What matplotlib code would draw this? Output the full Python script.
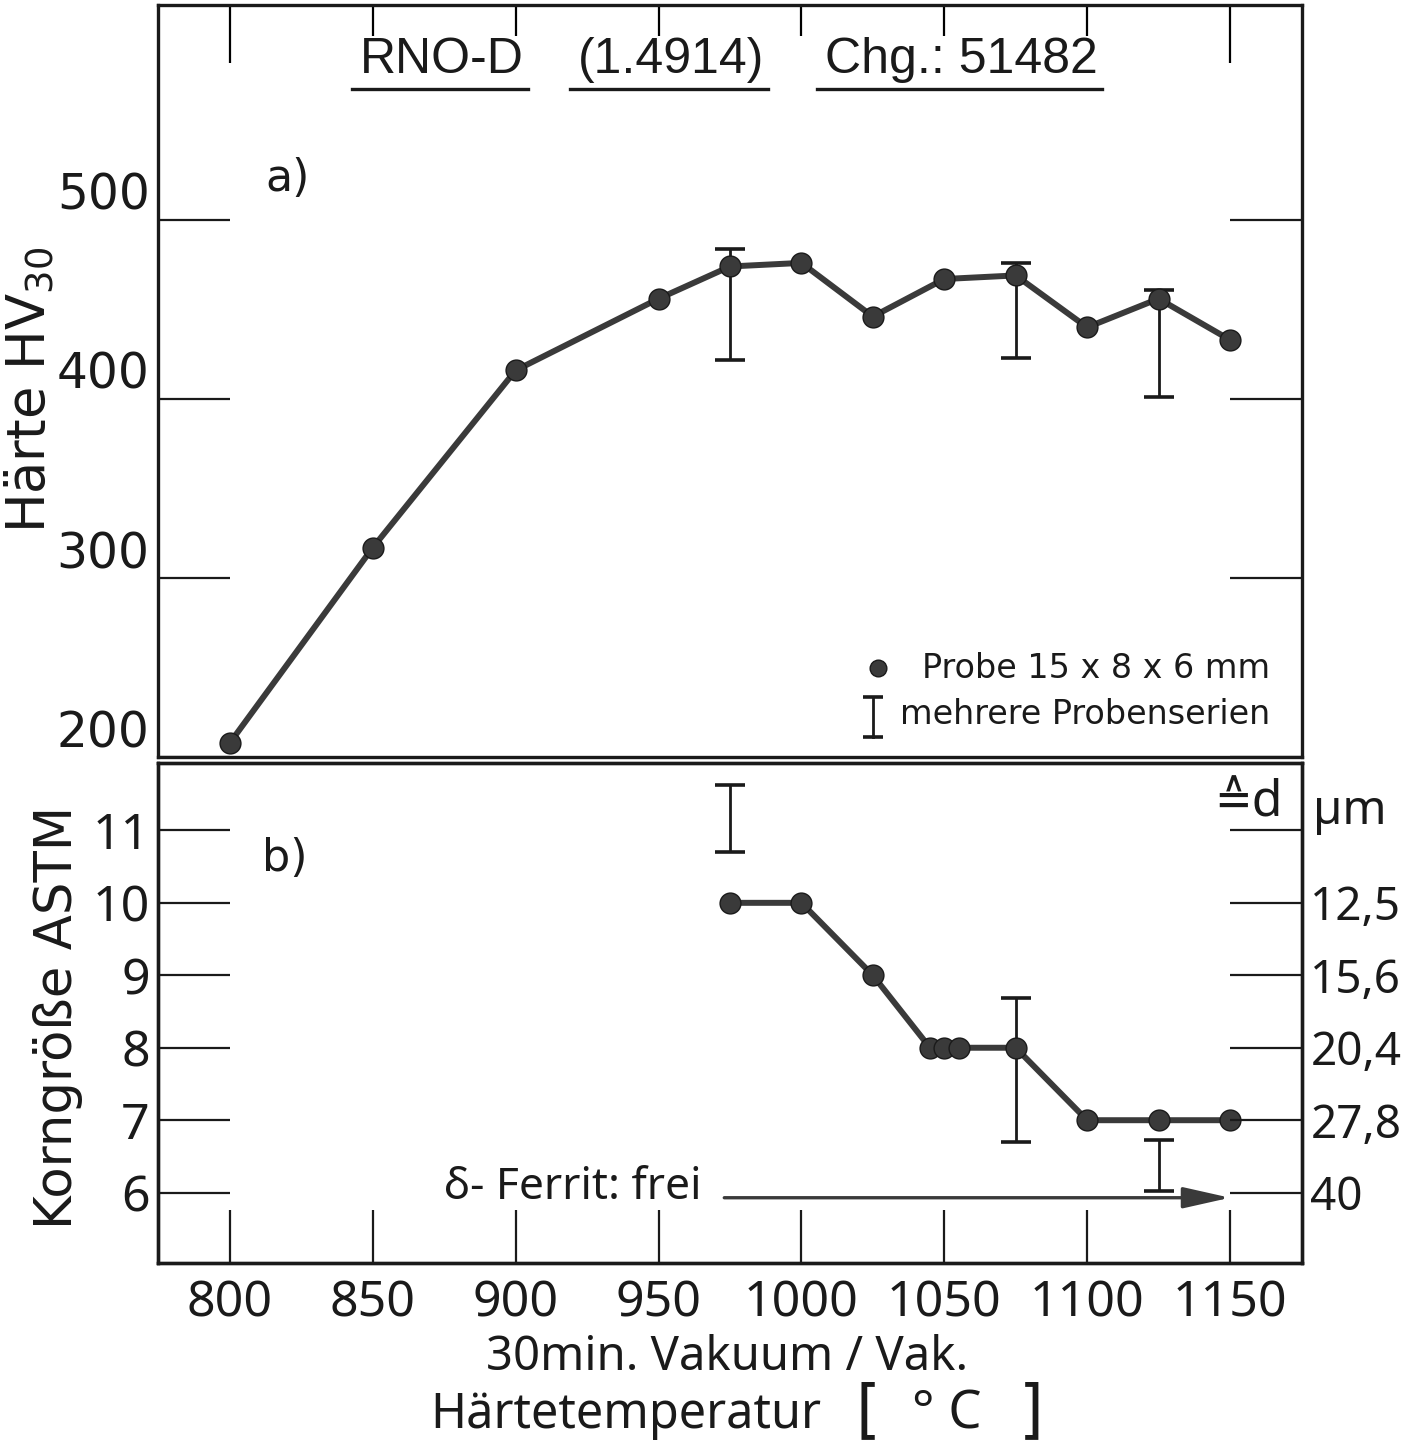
"""
Härte und Korngröße von RNO-D (1.4914), Chg. 51482, über der Härtetemperatur.
"""

import matplotlib

matplotlib.use("Agg")
from matplotlib import pyplot as plt
from matplotlib import transforms as mtrans

# a) Härte HV30
TEMP_A = [800, 850, 900, 950, 975, 1000, 1025, 1050, 1075, 1100, 1125, 1150]
HV_A = [208, 317, 416, 456, 474, 476, 446, 467, 469, 440, 456, 433]
ERR_A_TEMP = [975, 1075, 1125]
ERR_A_LOW = [422, 423, 401]
ERR_A_HIGH = [484, 476, 461]

# b) Korngröße ASTM
TEMP_B = [975, 1000, 1025, 1045, 1050, 1055, 1075, 1100, 1125, 1150]
ASTM_B = [10, 10, 9, 8, 8, 8, 8, 7, 7, 7]
ERR_B_TEMP = [975, 1075, 1125]
ERR_B_LOW = [10.7, 6.7, 6.02]
ERR_B_HIGH = [11.63, 8.68, 6.72]

X_TICKS = [800, 850, 900, 950, 1000, 1050, 1100, 1150]
HV_TICKS = [200, 300, 400, 500]
ASTM_TICKS = [6, 7, 8, 9, 10, 11]
D_TICKS = [6, 7, 8, 9, 10, 11]
D_LABELS = ["40", "27,8", "20,4", "15,6", "12,5", ""]
FERRIT_FROM = 973
FERRIT_TO = 1150
FERRIT_LEVEL = 5.93

# narrow lettering: condensed Noto if it is there, plain Noto otherwise
NARROW = dict(fontfamily=["Noto Sans", "DejaVu Sans"], fontstretch="condensed")
WIDE = dict(fontfamily=["DejaVu Sans"])
TITLE_FONT = dict(fontfamily=["Liberation Sans", "DejaVu Sans"])
INK = "#1a1a1a"
LINE = "#3a3a3a"


def errbars(ax, xs, lows, highs):
    mids = [(lo + hi) / 2 for lo, hi in zip(lows, highs)]
    half = [(hi - lo) / 2 for lo, hi in zip(lows, highs)]
    ax.errorbar(xs, mids, yerr=half, fmt="none", ecolor=INK, elinewidth=2.0,
                capsize=11, capthick=2.6, zorder=2)


def main():
    fig = plt.figure(figsize=(14.18, 14.5), dpi=100)
    ax_a = fig.add_axes([0.1114, 0.4779, 0.8068, 0.5186])
    ax_b = fig.add_axes([0.1114, 0.1290, 0.8068, 0.3448])

    for ax in (ax_a, ax_b):
        ax.set_xlim(774.8, 1175.2)
        for sp in ax.spines.values():
            sp.set_linewidth(2.4)
            sp.set_color(INK)

    # --- a) ---
    ax_a.set_ylim(200, 620)
    ax_a.plot(TEMP_A, HV_A, "-", color=LINE, lw=4.3, zorder=3)
    ax_a.plot(TEMP_A, HV_A, "o", color=LINE, mec=INK, mew=1, ms=15, zorder=4)
    errbars(ax_a, ERR_A_TEMP, ERR_A_LOW, ERR_A_HIGH)
    ax_a.set_yticks(HV_TICKS, [str(t) for t in HV_TICKS], fontsize=35,
                    va="bottom", **WIDE)
    ax_a.tick_params(axis="y", direction="in", length=52, width=1.6,
                     left=True, right=True, pad=6, colors=INK)
    ax_a.set_xticks([800, 1150], ["", ""])
    ax_a.set_xticks(X_TICKS[1:-1], minor=True)
    ax_a.tick_params(axis="x", which="major", direction="in", length=42,
                     width=1.6, top=True, bottom=False, labelbottom=False)
    ax_a.tick_params(axis="x", which="minor", direction="in", length=22,
                     width=1.6, top=True, bottom=False, labelbottom=False)

    ax_a.text(0.0935, 0.77, "a)", transform=ax_a.transAxes, fontsize=32,
              va="center", ha="left", color=INK, **WIDE)

    # legend drawn by hand, as in the original
    ax_a.plot([0.629], [0.118], "o", color=LINE, mec=INK, ms=12,
              transform=ax_a.transAxes, clip_on=False)
    ax_a.plot([0.625, 0.625], [0.027, 0.080], color=INK, lw=2,
              transform=ax_a.transAxes)
    ax_a.plot([0.625, 0.625], [0.027, 0.080], "_", color=INK, ms=14, mew=2.6,
              transform=ax_a.transAxes)
    ax_a.text(0.668, 0.118, "Probe 15 x 8 x 6 mm", transform=ax_a.transAxes,
              fontsize=24, va="center", ha="left", color=INK, **WIDE)
    ax_a.text(0.649, 0.056, "mehrere Probenserien", transform=ax_a.transAxes,
              fontsize=24, va="center", ha="left", color=INK, **WIDE)

    # title pieces, each underlined
    title_parts = [("RNO-D", 0.1766), ("(1.4914)", 0.367), ("Chg.: 51482", 0.583)]
    title_texts = []
    for txt, x0 in title_parts:
        t = ax_a.text(x0, 0.927, txt, transform=ax_a.transAxes, fontsize=36,
                      va="center", ha="left", color=INK, **TITLE_FONT)
        title_texts.append(t)

    # --- b) ---
    ax_b.set_ylim(5.03, 11.93)
    ax_b.plot(TEMP_B, ASTM_B, "-", color=LINE, lw=4.3, zorder=3)
    ax_b.plot(TEMP_B, ASTM_B, "o", color=LINE, mec=INK, mew=1, ms=15, zorder=4)
    errbars(ax_b, ERR_B_TEMP, ERR_B_LOW, ERR_B_HIGH)
    ax_b.set_yticks(ASTM_TICKS, [str(t) for t in ASTM_TICKS], fontsize=36,
                    **NARROW)
    ax_b.tick_params(axis="y", direction="in", length=52, width=1.6,
                     left=True, right=False, pad=6, colors=INK)
    ax_b.set_xticks(X_TICKS, [str(t) for t in X_TICKS], fontsize=36, **NARROW)
    ax_b.tick_params(axis="x", direction="in", length=38, width=1.6,
                     top=False, bottom=True, pad=11, colors=INK)

    ax_d = ax_b.twinx()
    ax_d.set_ylim(ax_b.get_ylim())
    ax_d.set_yticks(D_TICKS, D_LABELS, fontsize=33, **NARROW)
    ax_d.tick_params(axis="y", direction="in", length=52, width=1.6, pad=6,
                     colors=INK)
    for sp in ax_d.spines.values():
        sp.set_linewidth(2.4)
        sp.set_color(INK)

    blend = mtrans.blended_transform_factory(ax_b.transAxes, ax_b.transData)
    ax_b.text(1.01, 10.93, "µm", transform=blend, fontsize=34,
              va="bottom", ha="left", color=INK, **NARROW)
    ax_b.text(0.983, 11.03, "≙d", transform=blend, fontsize=36,
              va="bottom", ha="right", color=INK, **NARROW)
    ax_b.text(0.091, 0.808, "b)", transform=ax_b.transAxes, fontsize=32,
              va="center", ha="left", color=INK, **WIDE)

    ax_b.annotate("", xy=(FERRIT_TO, FERRIT_LEVEL),
                  xytext=(FERRIT_FROM, FERRIT_LEVEL),
                  arrowprops=dict(arrowstyle="-|>,head_length=0.8,head_width=0.18",
                                  mutation_scale=36, lw=2.4, color=LINE,
                                  shrinkA=0, shrinkB=0))
    ax_b.text(875, 6.06, "δ- Ferrit: frei", fontsize=32,
              va="center", ha="left", color=INK, **NARROW)

    # axis titles
    fig.text(0.021, 0.731, "Härte HV$_{30}$", rotation=90, fontsize=38,
             va="center", ha="center", color=INK, **WIDE)
    fig.text(0.041, 0.298, "Korngröße ASTM", rotation=90, fontsize=37,
             va="center", ha="center", color=INK, **WIDE)
    fig.text(0.513, 0.064, "30min. Vakuum / Vak.", fontsize=34,
             va="center", ha="center", color=INK, **NARROW)
    fig.text(0.579, 0.024, "Härtetemperatur", fontsize=35,
             va="center", ha="right", color=INK, **NARROW)
    fig.text(0.612, 0.026, "[", fontsize=46, va="center", ha="center",
             color=INK, **WIDE)
    fig.text(0.668, 0.024, "° C", fontsize=38, va="center", ha="center",
             color=INK, **NARROW)
    fig.text(0.727, 0.026, "]", fontsize=46, va="center", ha="center",
             color=INK, **WIDE)

    # underline the title pieces
    fig.canvas.draw()
    renderer = fig.canvas.get_renderer()
    inv = ax_a.transAxes.inverted()
    for t in title_texts:
        bb = t.get_window_extent(renderer)
        (x0, y0), (x1, _) = inv.transform([[bb.x0 - 8, bb.y0 - 6], [bb.x1 + 4, bb.y0]])
        ax_a.plot([x0, x1], [y0, y0], color=INK, lw=2.4,
                  transform=ax_a.transAxes)

    fig.savefig("out.png", dpi=100)
    plt.close(fig)


if __name__ == "__main__":
    main()
